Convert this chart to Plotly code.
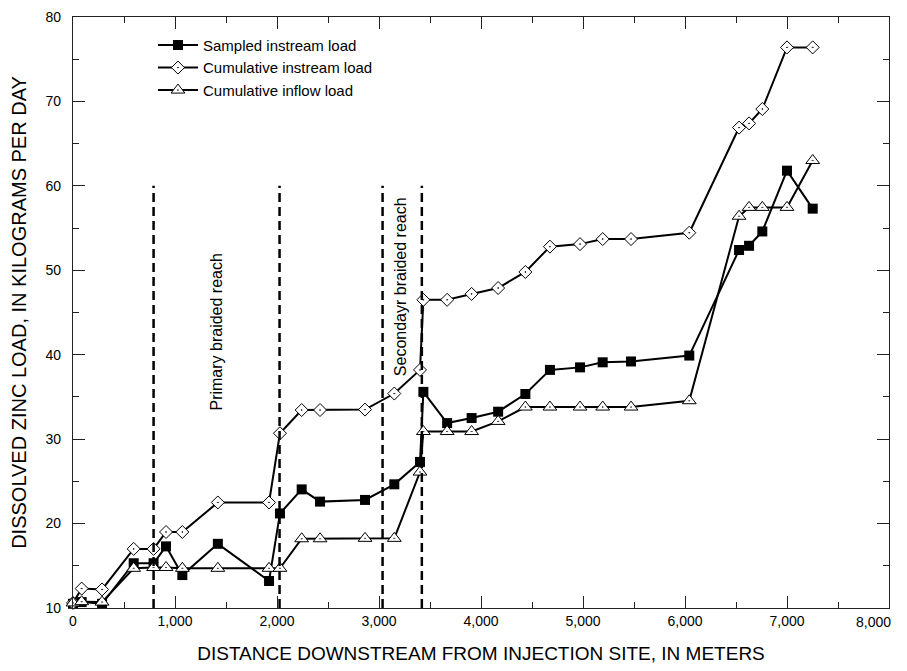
import plotly.graph_objects as go

# distance downstream (m) for each sampling site
distance = [0, 85, 285, 595, 790, 912, 1072, 1420, 1922, 2029,
            2242, 2422, 2863, 3150, 3402, 3435, 3668, 3908, 4168, 4435,
            4676, 4971, 5193, 5471, 6042, 6530, 6628, 6758, 7000, 7252]

# dissolved zinc loads, kg/day
sampled_instream = [10.5, 10.7, 10.5, 15.3, 15.3, 17.3, 13.9, 17.6, 13.2, 21.2,
                    24.05, 22.6, 22.8, 24.65, 27.3, 35.6, 31.9, 32.5, 33.25, 35.35,
                    38.2, 38.5, 39.1, 39.2, 39.9, 52.4, 52.9, 54.6, 61.8, 57.3]
cumulative_instream = [10.6, 12.3, 12.2, 17.0, 17.0, 19.0, 19.0, 22.5, 22.5, 30.7,
                       33.45, 33.45, 33.5, 35.4, 38.2, 46.5, 46.5, 47.2, 47.9, 49.8,
                       52.8, 53.1, 53.7, 53.7, 54.45, 66.9, 67.4, 69.1, 76.4, 76.4]
cumulative_inflow = [10.6, 10.75, 10.7, 14.7, 14.8, 14.8, 14.7, 14.7, 14.7, 14.7,
                     18.2, 18.2, 18.25, 18.25, 26.1, 30.9, 30.9, 30.9, 32.1, 33.8,
                     33.8, 33.8, 33.8, 33.8, 34.55, 56.4, 57.45, 57.45, 57.45, 63.0]

# x tick labels (the last one is placed by hand so it stays on the page)
x_ticks = [0, 1000, 2000, 3000, 4000, 5000, 6000, 7000, 8000]
x_tick_text = ["0", "1,000", "2,000", "3,000", "4,000", "5,000", "6,000", "7,000", ""]

# braided reach boundaries (m) and labels
reach_bounds = [790, 2025, 3035, 3420]
reach_top = 60
reach_labels = ["Primary braided reach", "Secondayr braided reach"]
reach_label_x = [1408, 3206]
reach_label_y = [42.7, 48.0]

FONT = "Liberation Sans, Arial, sans-serif"

fig = go.Figure()

# Sampled instream load
fig.add_trace(go.Scatter(
    x=distance, y=sampled_instream, name="Sampled instream load",
    mode="lines+markers", cliponaxis=False,
    line=dict(color="black", width=2),
    marker=dict(symbol="square", size=10, color="black"),
))

# Cumulative instream load
fig.add_trace(go.Scatter(
    x=distance, y=cumulative_instream, name="Cumulative instream load",
    mode="lines+markers", cliponaxis=False,
    line=dict(color="black", width=2),
    marker=dict(symbol="diamond-dot", size=10, color="white",
                line=dict(color="black", width=1)),
))

# Cumulative inflow load
fig.add_trace(go.Scatter(
    x=distance, y=cumulative_inflow, name="Cumulative inflow load",
    mode="lines+markers", cliponaxis=False,
    line=dict(color="black", width=2),
    marker=dict(symbol="triangle-up-dot", size=12, color="white",
                line=dict(color="black", width=1)),
))

# dashed reach boundaries
for xb in reach_bounds:
    fig.add_shape(type="line", xref="x", yref="y", x0=xb, x1=xb, y0=10, y1=reach_top,
                  line=dict(color="black", width=2.5, dash="9px,5px"))

for txt, xl, yl in zip(reach_labels, reach_label_x, reach_label_y):
    fig.add_annotation(x=xl, y=yl, xref="x", yref="y", text=txt, showarrow=False,
                       textangle=-90, font=dict(family=FONT, size=16, color="black"))

# last x tick label, nudged left like in the original
fig.add_annotation(x=x_ticks[-1], y=0, xref="x", yref="paper", text="8,000",
                   showarrow=False, xanchor="right", yanchor="top", xshift=4, yshift=-4,
                   font=dict(family=FONT, size=14, color="black"))

axis_common = dict(
    showline=True, linecolor="#222", linewidth=1.2, mirror="allticks",
    ticks="inside", ticklen=12, tickcolor="#222", tickwidth=1,
    showgrid=False, zeroline=False, automargin=False,
    tickfont=dict(family=FONT, size=14, color="black"),
)

fig.update_xaxes(
    range=[0, 8000], tickmode="array", tickvals=x_ticks, ticktext=x_tick_text,
    minor=dict(dtick=500, ticks="inside", ticklen=6, tickcolor="#222"),
    title=dict(text="DISTANCE DOWNSTREAM FROM INJECTION SITE, IN METERS",
               font=dict(family=FONT, size=19, color="black"), standoff=18),
    **axis_common,
)
fig.update_yaxes(
    range=[10, 80], dtick=10, ticklabelstandoff=8,
    minor=dict(dtick=5, ticks="inside", ticklen=6, tickcolor="#222"),
    title=dict(text="DISSOLVED ZINC LOAD, IN KILOGRAMS PER DAY",
               font=dict(family=FONT, size=20, color="black"), standoff=16),
    **axis_common,
)

# the page body adds an 8px margin, so the figure is drawn 8px smaller
fig.update_layout(
    width=899, height=663,
    margin=dict(l=65, r=18, t=9, b=63),
    paper_bgcolor="white", plot_bgcolor="white",
    font=dict(family=FONT, color="black"),
    legend=dict(x=0.098, y=0.98, xanchor="left", yanchor="top",
                bgcolor="rgba(0,0,0,0)", itemwidth=40,
                font=dict(family=FONT, size=15, color="black")),
)

fig.write_html("out.html")
